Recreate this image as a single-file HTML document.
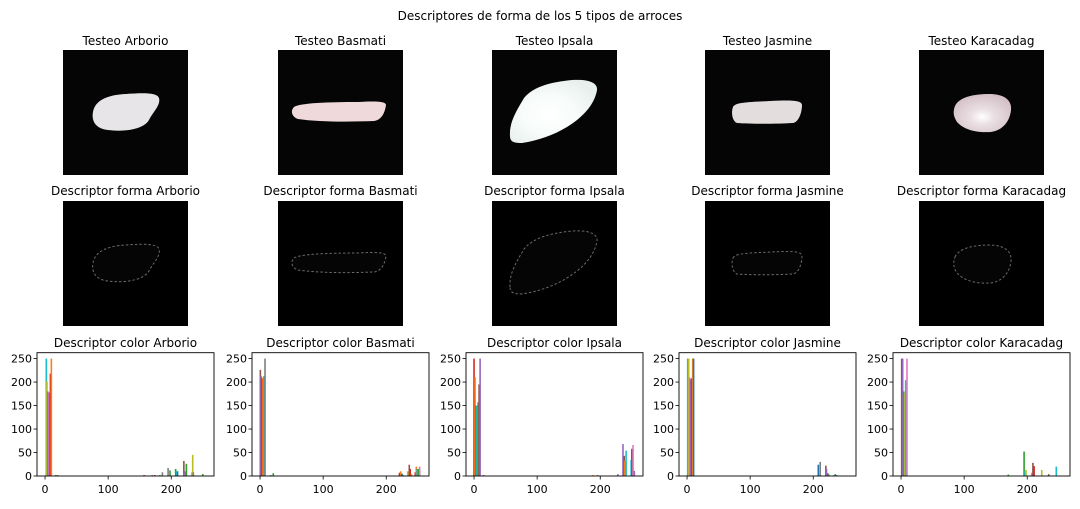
<!DOCTYPE html>
<html><head><meta charset="utf-8">
<style>
body{margin:0;background:#fff;}
svg text{font-family:"DejaVu Sans","Liberation Sans",sans-serif;fill:#000;}
</style></head>
<body>
<svg id="fig" width="1080" height="504" viewBox="0 0 1080 504" xmlns="http://www.w3.org/2000/svg">
<rect width="1080" height="504" fill="#fff"/>
<defs>
<radialGradient id="gIps" cx="0.45" cy="0.55" r="0.6"><stop offset="0" stop-color="#ffffff"/><stop offset="0.5" stop-color="#f8fcfb"/><stop offset="1" stop-color="#e8f0ee"/></radialGradient>
<radialGradient id="gKar" cx="0.5" cy="0.6" r="0.6"><stop offset="0" stop-color="#ffffff"/><stop offset="0.35" stop-color="#eadfe2"/><stop offset="1" stop-color="#d3c0c6"/></radialGradient>
</defs>
<text x="540" y="20" font-size="12" text-anchor="middle">Descriptores de forma de los 5 tipos de arroces</text>
<g id="panels"></g>
</svg>
<script>
const riceNames = ["Arborio","Basmati","Ipsala","Jasmine","Karacadag"];
const tab10 = ["#1f77b4","#ff7f0e","#2ca02c","#d62728","#9467bd","#8c564b","#e377c2","#7f7f7f","#bcbd22","#17becf"];
const xTicks = [0,100,200];
const yTicks = [0,50,100,150,200,250];
// histogram data: bin centre, count, colour index
const arborioX = [2,3,4.5,6,7,8.5,10,17,20,157,170,174,182,186,195,198,207,209,210,220,221,222,224,233,234,235,250];
const arborioY = [250,202,180,178,177,218,250,2,2,2,2,2,2,8,17,12,15,10,10,32,5,10,26,8,45,8,4];
const arborioC = [9,8,7,6,4,3,1,2,2,3,7,3,2,7,7,2,2,9,0,5,6,4,2,9,8,7,2];
const basmatiX = [0.5,1.6,3.2,4.8,6.3,7.9,17,21,221,223,225,227,234,236.5,238,240,246,247.6,249,251,253];
const basmatiY = [226,213,208,210,213,250,2,6,7,10,5,2,10,24,15,4,8,20,15,15,20];
const basmatiC = [5,4,3,1,9,7,7,2,3,1,0,7,8,5,3,1,3,1,9,2,6];
const ipsalaX = [0,1.6,3.2,4.8,6.4,8,9.6,15,188,196,228,236,238,239,241,249,250,252,254];
const ipsalaY = [250,210,150,150,157,195,250,2,2,2,4,68,43,32,54,34,58,66,11];
const ipsalaC = [3,1,2,9,7,5,4,5,1,7,4,4,5,1,9,9,5,6,4];
const jasmineX = [1,2.6,4,5.7,7.3,8.9,10.4,208,211,220,221,223,224.5,233,235,237];
const jasmineY = [250,250,210,206,208,250,250,24,30,22,15,6,4,2,4,2];
const jasmineC = [9,8,6,4,3,1,0,0,7,5,4,2,7,9,2,7];
const karacadagX = [1,2.6,4.2,5.7,7.3,9.4,170,195,196.4,198,207,209,210.9,223,234,246];
const karacadagY = [250,250,180,176,204,250,3,52,10,13,7,28,21,13,4,20];
const karacadagC = [5,4,2,8,9,6,2,2,9,8,6,5,3,8,5,9];
const histX = [arborioX,basmatiX,ipsalaX,jasmineX,karacadagX];
const histY = [arborioY,basmatiY,ipsalaY,jasmineY,karacadagY];
const histC = [arborioC,basmatiC,ipsalaC,jasmineC,karacadagC];

const NS="http://www.w3.org/2000/svg";
const root=document.getElementById('panels');
function mk(tag,attrs,parent){const e=document.createElementNS(NS,tag);for(const k in attrs)e.setAttribute(k,attrs[k]);(parent||root).appendChild(e);return e;}

const lefts=[37,252,466,679,893];
const W=177;
const shapes=[
 "M30,62 C32,50 45,45 62,44 C78,43 94,42 96,48 C98,55 90,62 86,70 C80,80 60,82 45,80 C34,79 28,72 30,62Z",
 "M16,57 C22,53 50,52 80,52 C95,51 108,51 108,55 C107,62 104,70 96,71 C70,72 40,72 20,69 C14,67 12,61 16,57Z",
 "M18,86 C17,72 25,60 32,48 C42,36 60,32 80,30 C95,29 106,32 105,40 C103,52 95,62 85,70 C70,82 50,90 30,93 C22,93 18,92 18,86Z",
 "M28,57 C30,52 45,52 65,51 C85,50 97,50 97,55 C97,62 94,72 88,73 C70,74 45,74 32,73 C27,71 26,62 28,57Z",
 "M36,56 C40,47 55,44 70,44 C85,44 93,50 92,60 C91,70 85,80 72,82 C58,83 45,80 38,72 C34,66 34,61 36,56Z"
];
const fills=["#e8e5e8","#efd9da","url(#gIps)","#e4dddd","url(#gKar)"];

function xs(i,v){return lefts[i]+(v+12.75)/280.5*W;}
function ys(v){return 476-v/262.5*123.3;}

for(let i=0;i<5;i++){
  const L=lefts[i], cx=L+W/2, ix=L+26;
  const g=mk('g',{});
  
  
  const t1=mk('text',{x:cx,y:45,'font-size':12,'text-anchor':'middle'},g);
  t1.textContent='Testeo '+riceNames[i];
  
  
  const im=mk('g',{transform:`translate(${ix},50)`},g);
  
  
  mk('rect',{width:125,height:125,fill:'#050505'},im);
  mk('path',{d:shapes[i],fill:fills[i]},im);
  const t2=mk('text',{x:cx,y:195,'font-size':12,'text-anchor':'middle'},g);
  t2.textContent='Descriptor forma '+riceNames[i];
  
  
  const dm=mk('g',{transform:`translate(${ix},201)`},g);
  
  
  mk('rect',{width:125,height:125,fill:'#000'},dm);
  mk('path',{d:shapes[i],fill:'#050505',stroke:'#6a6a6a','stroke-width':1,'stroke-dasharray':'2.5 2'},dm);
  const t3=mk('text',{x:cx,y:347,'font-size':12,'text-anchor':'middle'},g);
  t3.textContent='Descriptor color '+riceNames[i];
  
  
  const hx=histX[i],hy=histY[i],hc=histC[i];
  for(let k=0;k<hx.length;k++){
    const y=ys(hy[k]);
    const b=mk('rect',{x:xs(i,hx[k])-0.8,y:y,width:1.6,height:476-y,fill:tab10[hc[k]]},g);
    
    
  }
  const ax=mk('rect',{x:L,y:352.7,width:W,height:123.3,fill:'none',stroke:'#000','stroke-width':0.9},g);
  
  
  xTicks.forEach(v=>{
    const x=xs(i,v);
    mk('line',{x1:x,x2:x,y1:476,y2:479.5,stroke:'#000','stroke-width':0.8},g);
    const tt=mk('text',{x:x,y:493,'font-size':11,'text-anchor':'middle'},g);
    tt.textContent=v;
    
    
  });
  yTicks.forEach(v=>{
    const y=ys(v);
    mk('line',{x1:L-3.5,x2:L,y1:y,y2:y,stroke:'#000','stroke-width':0.8},g);
    const tt=mk('text',{x:L-5,y:y+4,'font-size':11,'text-anchor':'end'},g);
    tt.textContent=v;
    
    
  });
}
</script>
</body></html>
